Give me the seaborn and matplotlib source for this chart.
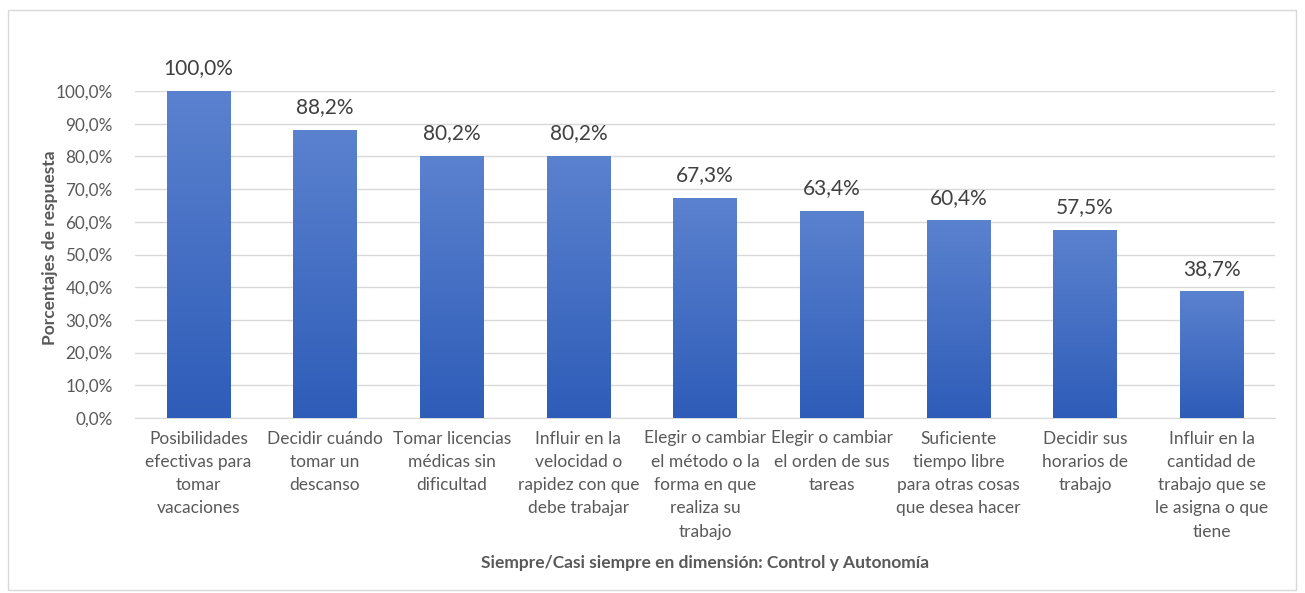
import numpy as np
import pandas as pd
import matplotlib
matplotlib.use("Agg")
import matplotlib.pyplot as plt
import matplotlib.ticker as mticker
from matplotlib.colors import LinearSegmentedColormap
from matplotlib.patches import Rectangle
import seaborn as sns

# Data
categorias = [
    "Posibilidades\nefectivas para\ntomar\nvacaciones",
    "Decidir cuándo\ntomar un\ndescanso",
    "Tomar licencias\nmédicas sin\ndificultad",
    "Influir en la\nvelocidad o\nrapidez con que\ndebe trabajar",
    "Elegir o cambiar\nel método o la\nforma en que\nrealiza su\ntrabajo",
    "Elegir o cambiar\nel orden de sus\ntareas",
    "Suficiente\ntiempo libre\npara otras cosas\nque desea hacer",
    "Decidir sus\nhorarios de\ntrabajo",
    "Influir en la\ncantidad de\ntrabajo que se\nle asigna o que\ntiene",
]
porcentajes = [100.0, 88.2, 80.2, 80.2, 67.3, 63.4, 60.4, 57.5, 38.7]

df = pd.DataFrame({"cat": categorias, "pct": porcentajes})

sns.set_style("white")
plt.rcParams["font.family"] = ["Lato", "DejaVu Sans"]

gray = "#595959"
fig = plt.figure(figsize=(13.05, 5.93), dpi=100)
ax = fig.add_axes([135 / 1305, 1 - 418 / 593, 1140 / 1305, 327 / 593])

sns.barplot(data=df, x="cat", y="pct", ax=ax, width=0.5, color="#4472C4", zorder=3)

# gradient fill on each bar (lighter top, darker bottom)
cmap = LinearSegmentedColormap.from_list("grad", ["#2E5CB8", "#5B82CF"])
grad = np.linspace(0, 1, 256).reshape(-1, 1)
for p in ax.patches:
    x0, y0 = p.get_x(), p.get_y()
    w, h = p.get_width(), p.get_height()
    im = ax.imshow(grad, cmap=cmap, origin="lower", aspect="auto",
                   extent=[x0, x0 + w, y0, y0 + h], zorder=3)
    im.set_clip_path(p)
    p.set_facecolor("none")
    p.set_edgecolor("none")

for i, v in enumerate(porcentajes):
    ax.text(i, v + 3.8, f"{v:.1f}%".replace(".", ","), ha="center", va="bottom",
            fontsize=15, color="#404040")

ax.set_xlim(-0.5, len(categorias) - 0.5)
ax.set_ylim(0, 100)
ax.set_yticks(np.arange(0, 101, 10))
ax.yaxis.set_major_formatter(mticker.FuncFormatter(lambda v, _: f"{v:.1f}%".replace(".", ",")))
ax.grid(axis="y", color="#D9D9D9", linewidth=1, zorder=0)
ax.set_axisbelow(True)
for s in ["top", "right", "left"]:
    ax.spines[s].set_visible(False)
ax.spines["bottom"].set_color("#D9D9D9")
ax.tick_params(axis="both", length=0, colors=gray)
ax.tick_params(axis="y", pad=16, labelsize=12.3)
ax.tick_params(axis="x", pad=9, labelsize=12.5)
for t in ax.get_xticklabels():
    t.set_linespacing(1.56)

ax.set_xlabel("Siempre/Casi siempre en dimensión: Control y Autonomía",
              fontsize=12.5, fontweight="bold", color=gray, labelpad=11)
ax.set_ylabel("Porcentajes de respuesta", fontsize=12.5, fontweight="bold",
              color=gray, labelpad=0)
ax.yaxis.set_label_coords(-77 / 1140, 0.52)

fig.patches.append(Rectangle((8 / 1305, 3 / 593), 1288 / 1305, 580 / 593,
                             transform=fig.transFigure, fill=False,
                             edgecolor="#D9D9D9", linewidth=1))

fig.savefig("out.png", dpi=100)
